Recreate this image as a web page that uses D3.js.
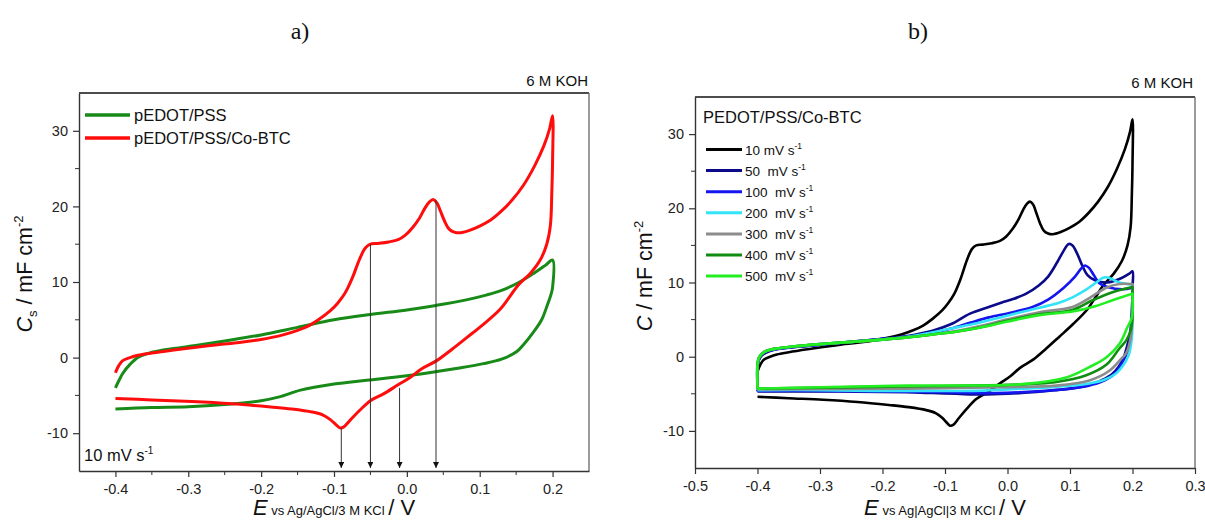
<!DOCTYPE html>
<html><head><meta charset="utf-8">
<script src="https://cdn.jsdelivr.net/npm/d3@7"></script>
<style>
body{margin:0;background:#fff;}
svg{display:block;font-family:"Liberation Sans",Arial,sans-serif;}
text{white-space:pre;}
</style></head>
<body><svg id="c" width="1205" height="521"></svg>
<script>
// ---------- DATA ----------
// Panel a) 10 mV s-1
const pedotAnodic = [[-0.400,-4.0],[-0.395,-3.0],[-0.390,-2.1],[-0.380,-0.9],[-0.368,0.1],[-0.350,0.7],[-0.320,1.2],[-0.290,1.6],[-0.250,2.2],[-0.200,3.0],[-0.150,4.0],[-0.100,5.0],[-0.050,5.7],[0.000,6.3],[0.040,6.9],[0.080,7.6],[0.110,8.3],[0.130,8.9],[0.153,9.9],[0.175,11.2],[0.190,12.2],[0.200,12.9]];
const pedotCathodic = [[0.200,9.3],[0.198,8.4],[0.193,7.0],[0.185,5.0],[0.174,3.4],[0.160,1.7],[0.151,0.8],[0.130,-0.2],[0.105,-0.8],[0.070,-1.4],[0.037,-1.9],[0.000,-2.4],[-0.055,-3.0],[-0.100,-3.5],[-0.146,-4.3],[-0.175,-5.2],[-0.200,-5.7],[-0.250,-6.2],[-0.300,-6.5],[-0.350,-6.6],[-0.400,-6.8]];
const cobtc10Anodic = [[-0.400,-2.0],[-0.395,-1.0],[-0.390,-0.4],[-0.380,0.0],[-0.369,0.3],[-0.350,0.6],[-0.320,1.0],[-0.295,1.3],[-0.260,1.7],[-0.230,2.0],[-0.200,2.4],[-0.170,3.0],[-0.150,3.6],[-0.135,4.2],[-0.120,5.1],[-0.105,6.2],[-0.095,7.2],[-0.085,8.5],[-0.075,10.5],[-0.065,13.0],[-0.057,14.5],[-0.050,15.0],[-0.040,15.1],[-0.025,15.3],[-0.012,15.6],[-0.002,16.2],[0.008,17.2],[0.017,18.4],[0.025,19.8],[0.031,20.6],[0.036,20.9],[0.041,20.5],[0.046,19.4],[0.052,18.0],[0.058,17.0],[0.065,16.6],[0.072,16.5],[0.085,16.8],[0.100,17.4],[0.115,18.2],[0.130,19.4],[0.145,20.9],[0.160,22.8],[0.175,25.3],[0.188,28.0],[0.196,30.3],[0.200,32.0]];
const cobtc10Cathodic = [[0.200,26.0],[0.199,22.0],[0.197,17.5],[0.192,15.0],[0.183,12.9],[0.170,11.2],[0.153,9.6],[0.140,7.9],[0.128,6.4],[0.105,4.4],[0.083,2.7],[0.062,1.1],[0.041,-0.4],[0.020,-1.5],[0.005,-2.6],[-0.012,-3.6],[-0.032,-4.8],[-0.050,-5.7],[-0.065,-7.0],[-0.078,-8.3],[-0.087,-9.2],[-0.092,-9.3],[-0.097,-8.9],[-0.105,-8.2],[-0.115,-7.6],[-0.130,-7.2],[-0.158,-6.8],[-0.190,-6.5],[-0.240,-6.1],[-0.295,-5.8],[-0.350,-5.6],[-0.400,-5.4]];
const arrowE = [-0.09,-0.05,-0.01,0.04];
const arrowFromC = [-9.3,15.0,-4.0,20.8];

// Panel b) scan rates
const s50Anodic = [[-0.400,-4.7],[-0.400,-1.5],[-0.398,-0.5],[-0.393,0.2],[-0.385,0.6],[-0.370,1.0],[-0.340,1.3],[-0.300,1.6],[-0.250,2.0],[-0.200,2.4],[-0.160,2.8],[-0.120,3.5],[-0.090,4.4],[-0.060,5.8],[-0.030,6.7],[-0.009,7.3],[0.010,7.8],[0.030,8.5],[0.050,9.6],[0.065,10.8],[0.080,12.8],[0.090,14.3],[0.098,15.2],[0.104,15.0],[0.112,13.8],[0.120,12.2],[0.128,11.0],[0.140,10.3],[0.160,10.0],[0.180,10.5],[0.195,11.2],[0.200,11.5]];
const s50Cathodic = [[0.200,9.3],[0.199,6.0],[0.196,3.1],[0.190,1.0],[0.184,-0.5],[0.168,-2.3],[0.150,-3.2],[0.131,-3.8],[0.100,-4.3],[0.078,-4.5],[0.040,-4.8],[0.000,-5.0],[-0.040,-5.1],[-0.082,-5.0],[-0.120,-4.9],[-0.162,-4.8],[-0.268,-4.7],[-0.400,-4.7]];
const s100Anodic = [[-0.400,-4.6],[-0.400,-1.3],[-0.398,-0.4],[-0.393,0.3],[-0.385,0.7],[-0.370,1.0],[-0.340,1.3],[-0.300,1.6],[-0.250,2.0],[-0.200,2.4],[-0.160,2.7],[-0.120,3.2],[-0.090,3.8],[-0.059,4.6],[-0.030,5.3],[0.003,5.9],[0.040,6.7],[0.065,7.7],[0.090,9.3],[0.108,10.8],[0.118,11.9],[0.124,12.3],[0.130,12.0],[0.138,11.0],[0.147,9.9],[0.160,9.4],[0.184,9.1],[0.200,9.3]];
const s100Cathodic = [[0.200,9.3],[0.199,5.5],[0.197,2.8],[0.192,0.8],[0.185,-0.6],[0.170,-2.4],[0.150,-3.4],[0.130,-3.9],[0.100,-4.3],[0.060,-4.6],[0.020,-4.8],[-0.020,-4.9],[-0.060,-4.9],[-0.100,-4.8],[-0.200,-4.7],[-0.300,-4.6],[-0.400,-4.6]];
const s200Anodic = [[-0.400,-4.5],[-0.400,-1.0],[-0.398,-0.2],[-0.393,0.4],[-0.385,0.8],[-0.370,1.1],[-0.340,1.4],[-0.300,1.7],[-0.250,2.0],[-0.200,2.3],[-0.160,2.7],[-0.119,3.3],[-0.090,3.8],[-0.055,4.4],[-0.002,5.5],[0.051,6.6],[0.080,7.2],[0.104,8.0],[0.125,9.0],[0.142,10.0],[0.152,10.6],[0.158,10.7],[0.166,10.5],[0.179,10.0],[0.200,9.7]];
const s200Cathodic = [[0.200,9.7],[0.200,5.0],[0.199,2.6],[0.195,0.5],[0.190,-0.5],[0.181,-1.6],[0.173,-2.3],[0.155,-3.1],[0.131,-3.6],[0.100,-3.9],[0.051,-4.2],[0.000,-4.4],[-0.055,-4.6],[-0.150,-4.6],[-0.215,-4.6],[-0.300,-4.5],[-0.400,-4.5]];
const s300Anodic = [[-0.400,-4.4],[-0.400,-1.0],[-0.398,-0.2],[-0.393,0.4],[-0.385,0.8],[-0.370,1.1],[-0.340,1.4],[-0.300,1.7],[-0.250,2.0],[-0.200,2.3],[-0.160,2.6],[-0.120,3.0],[-0.080,3.5],[-0.040,4.2],[-0.002,5.0],[0.051,6.0],[0.104,6.7],[0.131,7.9],[0.158,9.3],[0.179,9.8],[0.200,9.8]];
const s300Cathodic = [[0.200,9.8],[0.200,5.4],[0.197,2.5],[0.190,0.5],[0.184,-0.1],[0.163,-1.9],[0.131,-3.2],[0.078,-3.9],[-0.002,-4.1],[-0.162,-4.3],[-0.400,-4.4]];
const s400Anodic = [[-0.400,-4.3],[-0.400,-1.0],[-0.398,-0.2],[-0.393,0.4],[-0.385,0.8],[-0.370,1.1],[-0.340,1.4],[-0.300,1.7],[-0.250,2.0],[-0.200,2.3],[-0.160,2.6],[-0.120,3.0],[-0.080,3.4],[-0.040,4.0],[-0.002,4.8],[0.051,5.7],[0.104,6.3],[0.136,7.6],[0.168,8.7],[0.200,9.4]];
const s400Cathodic = [[0.200,9.4],[0.200,5.4],[0.197,3.5],[0.190,2.2],[0.179,1.1],[0.158,-1.1],[0.126,-2.5],[0.078,-3.4],[-0.002,-3.8],[-0.162,-4.0],[-0.400,-4.3]];
const s500Anodic = [[-0.400,-4.3],[-0.400,-1.0],[-0.398,-0.2],[-0.393,0.4],[-0.385,0.8],[-0.370,1.1],[-0.340,1.4],[-0.300,1.7],[-0.250,2.0],[-0.200,2.3],[-0.160,2.6],[-0.120,3.0],[-0.080,3.4],[-0.040,4.0],[-0.002,4.7],[0.051,5.6],[0.104,6.1],[0.136,6.7],[0.168,7.6],[0.200,8.5]];
const s500Cathodic = [[0.200,8.5],[0.200,5.8],[0.197,4.8],[0.192,4.0],[0.179,1.7],[0.158,-0.1],[0.131,-1.4],[0.094,-2.8],[0.024,-3.7],[-0.162,-3.9],[-0.400,-4.3]];

const legendA = ["pEDOT/PSS","pEDOT/PSS/Co-BTC"];
const legendB = ["10 mV s","50  mV s","100  mV s","200  mV s","300  mV s","400  mV s","500  mV s"];
const xTicksA = [-0.4,-0.3,-0.2,-0.1,0.0,0.1,0.2];
const xMinorA = [-0.35,-0.25,-0.15,-0.05,0.05,0.15];
const xTicksB = [-0.5,-0.4,-0.3,-0.2,-0.1,0.0,0.1,0.2,0.3];
const yTicks = [-10,0,10,20,30];
const yMinor = [-5,5,15,25];

// ---------- DRAW ----------
const svg = d3.select("#c");
const FONT = '"Liberation Sans",Arial,sans-serif';
const axisCol = "#333";

function panel(cfg){
  const g = svg.append("g");
  const x = d3.scaleLinear().domain(cfg.xd).range(cfg.xr);
  const y = d3.scaleLinear().domain([-15,35]).range(cfg.yr);
  g.append("line").attr("x1",cfg.xr[0]).attr("x2",cfg.xr[1]).attr("y1",cfg.yr[1]).attr("y2",cfg.yr[1]).attr("stroke","#111").attr("stroke-width",1.3);
  g.append("line").attr("x1",cfg.xr[1]).attr("x2",cfg.xr[1]).attr("y1",cfg.yr[1]).attr("y2",cfg.yr[0]).attr("stroke","#666").attr("stroke-width",1.3);
  const fmtX = d => d.toFixed(1);
  const xa = g.append("g").attr("transform",`translate(0,${cfg.yr[0]})`)
    .call(d3.axisBottom(x).tickValues(cfg.xt).tickFormat(fmtX).tickSizeInner(6).tickSizeOuter(0).tickPadding(7));
  if(cfg.xm){
    xa.selectAll(".minor").data(cfg.xm).enter().append("line").attr("class","minor")
      .attr("x1",d=>x(d)).attr("x2",d=>x(d)).attr("y1",0).attr("y2",4).attr("stroke",axisCol);
  }
  const ya = g.append("g").attr("transform",`translate(${cfg.xr[0]},0)`)
    .call(d3.axisLeft(y).tickValues(yTicks).tickFormat(d=>String(d)).tickSizeInner(6).tickSizeOuter(0).tickPadding(5));
  ya.selectAll(".minor").data(yMinor).enter().append("line").attr("class","minor")
    .attr("x1",0).attr("x2",-4).attr("y1",d=>y(d)).attr("y2",d=>y(d)).attr("stroke",axisCol);
  [xa,ya].forEach(a=>{
    a.select(".domain").attr("stroke",axisCol).attr("stroke-width",1.4);
    a.selectAll(".tick line").attr("stroke",axisCol).attr("stroke-width",1.2);
    a.selectAll("text").attr("font-family",FONT).attr("font-size",14.5).attr("fill","#222");
  });
  return {g,x,y};
}

const line = (x,y) => d3.line().x(d=>x(d[0])).y(d=>y(d[1])).curve(d3.curveCatmullRom.alpha(0.5));

// ----- Panel a -----
const A = panel({xd:[-0.45,0.25], xr:[79,589], yr:[471,93], xt:xTicksA, xm:xMinorA});
const lA = line(A.x,A.y);
const seriesA = [
  {an:pedotAnodic, ca:pedotCathodic, col:"#178a17"},
  {an:cobtc10Anodic, ca:cobtc10Cathodic, col:"#ff0d0d"}
];
seriesA.forEach(s=>{
  A.g.append("path").attr("d",lA(s.an.concat(s.ca))).attr("fill","none").attr("stroke",s.col).attr("stroke-width",3).attr("stroke-linejoin","round");
});
const defs = svg.append("defs");
defs.append("marker").attr("id","ah").attr("viewBox","0 0 10 10").attr("refX",10).attr("refY",5)
  .attr("markerWidth",8).attr("markerHeight",6).attr("markerUnits","userSpaceOnUse").attr("orient","auto")
  .append("path").attr("d","M0,0 L10,5 L0,10 Z").attr("fill","#111");
arrowE.forEach((e,i)=>{
  A.g.append("line").attr("x1",A.x(e)).attr("x2",A.x(e)).attr("y1",A.y(arrowFromC[i])).attr("y2",A.y(-14.6))
    .attr("stroke","#333").attr("stroke-width",1).attr("marker-end","url(#ah)");
});
const legColA = ["#178a17","#ff0d0d"];
legendA.forEach((t,i)=>{
  const yy = 115 + i*23;
  svg.append("line").attr("x1",85).attr("x2",130).attr("y1",yy).attr("y2",yy).attr("stroke",legColA[i]).attr("stroke-width",3.5);
  svg.append("text").attr("x",134).attr("y",yy+6).attr("font-size",16.5).attr("fill","#111").text(t);
});
{
  const t = svg.append("text").attr("x",84).attr("y",461).attr("font-size",16.5).attr("fill","#111");
  t.append("tspan").text("10 mV s");
  t.append("tspan").attr("font-size",10).attr("dy",-7).text("-1");
}

// ----- Panel b -----
const B = panel({xd:[-0.5,0.3], xr:[695,1195], yr:[468,97], xt:xTicksB});
const lB = line(B.x,B.y);
const seriesB = [
  {an:cobtc10Anodic, ca:cobtc10Cathodic, col:"#000000"},
  {an:s50Anodic, ca:s50Cathodic, col:"#0b0b8a"},
  {an:s100Anodic, ca:s100Cathodic, col:"#1515ee"},
  {an:s200Anodic, ca:s200Cathodic, col:"#33e4f8"},
  {an:s300Anodic, ca:s300Cathodic, col:"#8c8c8c"},
  {an:s400Anodic, ca:s400Cathodic, col:"#108c10"},
  {an:s500Anodic, ca:s500Cathodic, col:"#22ee22"}
];
seriesB.forEach(s=>{
  B.g.append("path").attr("d",lB(s.an.concat(s.ca))).attr("fill","none").attr("stroke",s.col).attr("stroke-width",2.6).attr("stroke-linejoin","round");
});
svg.append("text").attr("x",703).attr("y",123).attr("font-size",16.5).attr("fill","#111").text("PEDOT/PSS/Co-BTC");
legendB.forEach((t,i)=>{
  const yy = 149.5 + i*21.1;
  svg.append("line").attr("x1",706).attr("x2",742).attr("y1",yy).attr("y2",yy).attr("stroke",seriesB[i].col).attr("stroke-width",3);
  const tx = svg.append("text").attr("x",745).attr("y",yy+5).attr("font-size",13.5).attr("fill","#111");
  tx.append("tspan").text(t);
  tx.append("tspan").attr("font-size",8.5).attr("dy",-6).text("-1");
});

// ----- common labels -----
[[588,86],[1193,88]].forEach(p=>{
  svg.append("text").attr("x",p[0]).attr("y",p[1]).attr("text-anchor","end").attr("font-size",15).attr("fill","#111").text("6 M KOH");
});
[["a)",300],["b)",918]].forEach(p=>{
  svg.append("text").attr("x",p[1]).attr("y",39).attr("text-anchor","middle").attr("font-family",'"Liberation Serif","Times New Roman",serif').attr("font-size",24).attr("fill","#111").text(p[0]);
});
function xTitle(cx, ref){
  const t = svg.append("text").attr("x",cx).attr("y",515).attr("text-anchor","middle").attr("fill","#111");
  t.append("tspan").attr("font-size",22).attr("font-style","italic").text("E");
  t.append("tspan").attr("font-size",13).text(" vs " + ref + " ");
  t.append("tspan").attr("font-size",22).text("/ V");
}
xTitle(334,"Ag/AgCl/3 M KCl");
xTitle(945,"Ag|AgCl|3 M KCl");
function yTitle(cx, cy, sub){
  const t = svg.append("text").attr("transform",`translate(${cx},${cy}) rotate(-90)`).attr("text-anchor","middle").attr("fill","#111").attr("font-size",21.5);
  t.append("tspan").attr("font-style","italic").text("C");
  if(sub){ t.append("tspan").attr("font-size",13).attr("dy",5).text("s"); t.append("tspan").attr("dy",-5).text(" / mF cm"); }
  else t.append("tspan").text(" / mF cm");
  t.append("tspan").attr("font-size",13).attr("dy",-9).text("-2");
}
yTitle(32,274,true);
yTitle(652,276,false);
</script>
</body></html>
